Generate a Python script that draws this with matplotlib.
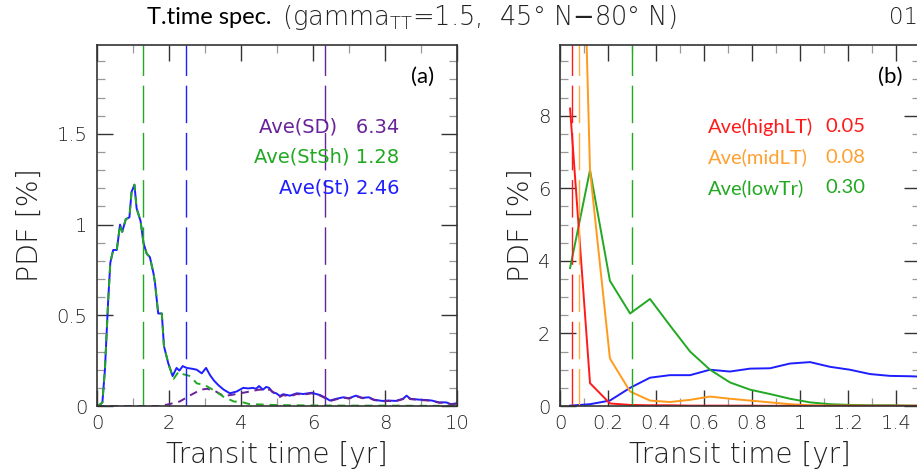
import matplotlib
matplotlib.use('Agg')
import matplotlib.pyplot as plt
from matplotlib.ticker import MultipleLocator

# ---- panel (a): transit time spectra, 0-10 yr ----
t_st = [0.0, 0.1, 0.15, 0.22, 0.31, 0.37, 0.45, 0.55, 0.64, 0.70, 0.80, 0.90, 0.96,
        1.04, 1.10, 1.21, 1.29, 1.38, 1.47, 1.57, 1.61, 1.70, 1.80, 1.86, 1.98, 2.10,
        2.21, 2.29, 2.38, 2.49, 2.65, 2.77, 2.91, 3.03, 3.14, 3.25, 3.37, 3.52, 3.69,
        3.88, 4.06, 4.20, 4.33, 4.42, 4.50, 4.61, 4.70, 4.78, 4.88, 4.98, 5.08, 5.17,
        5.36, 5.55, 5.73, 5.96, 6.20, 6.35, 6.47, 6.65, 6.84, 7.00, 7.19, 7.37, 7.55,
        7.69, 7.92, 8.10, 8.30, 8.50, 8.60, 8.70, 8.95, 9.15, 9.30, 9.50, 9.70, 9.83, 10.0]
v_st = [0.0, 0.01, 0.02, 0.2, 0.58, 0.79, 0.86, 0.86, 1.0, 0.96, 1.03, 1.04, 1.18,
        1.22, 1.09, 1.02, 0.90, 0.84, 0.82, 0.73, 0.68, 0.51, 0.51, 0.33, 0.235, 0.165,
        0.21, 0.195, 0.22, 0.21, 0.205, 0.20, 0.18, 0.21, 0.17, 0.14, 0.115, 0.09, 0.07,
        0.08, 0.10, 0.097, 0.10, 0.095, 0.11, 0.09, 0.105, 0.10, 0.075, 0.07, 0.055, 0.065,
        0.057, 0.07, 0.066, 0.073, 0.06, 0.045, 0.03, 0.04, 0.048, 0.043, 0.057, 0.045, 0.048,
        0.035, 0.028, 0.03, 0.028, 0.04, 0.057, 0.04, 0.035, 0.033, 0.03, 0.02, 0.02, 0.01, 0.015]

t_stsh = [0.0, 0.1, 0.15, 0.22, 0.31, 0.37, 0.45, 0.55, 0.64, 0.70, 0.80, 0.90, 0.96,
          1.04, 1.10, 1.21, 1.29, 1.38, 1.47, 1.57, 1.61, 1.70, 1.80, 1.86, 1.98, 2.10,
          2.13, 2.27, 2.40, 2.59, 2.77, 3.0, 3.3, 3.52, 3.8, 4.05, 4.25, 4.6, 5.0, 5.5,
          6.0, 7.0, 8.0, 9.0, 10.0]
v_stsh = [0.0, 0.01, 0.02, 0.2, 0.58, 0.79, 0.86, 0.86, 1.0, 0.96, 1.03, 1.04, 1.18,
          1.22, 1.09, 1.02, 0.90, 0.84, 0.82, 0.73, 0.68, 0.51, 0.51, 0.33, 0.235, 0.165,
          0.15, 0.19, 0.175, 0.165, 0.125, 0.115, 0.08, 0.05, 0.025, 0.02, 0.01, 0.008, 0.005, 0.004,
          0.003, 0.002, 0.002, 0.001, 0.001]

t_sd = [0.0, 1.0, 1.75, 2.0, 2.3, 2.6, 2.88, 3.06, 3.3, 3.52, 3.7, 3.98, 4.25, 4.5, 4.8,
        5.08, 5.17, 5.36, 5.55, 5.73, 5.96, 6.20, 6.35, 6.47, 6.65, 6.84, 7.00, 7.19, 7.37,
        7.55, 7.69, 7.92, 8.10, 8.30, 8.50, 8.60, 8.70, 8.95, 9.15, 9.30, 9.50, 9.70, 9.83, 10.0]
v_sd = [0.0, 0.0, 0.0, 0.01, 0.025, 0.06, 0.09, 0.095, 0.08, 0.055, 0.06, 0.07, 0.08, 0.09, 0.09,
        0.05, 0.06, 0.053, 0.066, 0.062, 0.07, 0.057, 0.042, 0.027, 0.037, 0.046, 0.041, 0.055, 0.043,
        0.046, 0.033, 0.026, 0.028, 0.026, 0.038, 0.055, 0.038, 0.033, 0.031, 0.028, 0.018, 0.018, 0.009, 0.013]

ave_a = {'SD': 6.34, 'StSh': 1.28, 'St': 2.46}

# ---- panel (b): monthly bins, 0-1.5 yr ----
t_b = [0.042, 0.125, 0.208, 0.292, 0.375, 0.458, 0.542, 0.625, 0.708, 0.792, 0.875,
       0.958, 1.042, 1.125, 1.208, 1.292, 1.375, 1.458, 1.542]
v_high = [8.2, 0.63, 0.07, 0.03, 0.02, 0.02, 0.01, 0.01, 0.01, 0.01, 0.005,
          0.005, 0.005, 0.005, 0.005, 0.005, 0.005, 0.005, 0.005]
v_mid = [27.0, 6.5, 1.31, 0.40, 0.15, 0.11, 0.17, 0.26, 0.20, 0.15, 0.10,
         0.05, 0.02, 0.01, 0.01, 0.005, 0.005, 0.005, 0.005]
v_low = [3.8, 6.5, 3.45, 2.55, 2.95, 2.22, 1.5, 1.0, 0.65, 0.45, 0.33,
         0.2, 0.1, 0.05, 0.03, 0.02, 0.02, 0.01, 0.01]
v_stb = [0.01, 0.05, 0.15, 0.5, 0.78, 0.85, 0.85, 1.0, 0.95, 1.03, 1.04,
         1.17, 1.21, 1.08, 1.0, 0.88, 0.83, 0.82, 0.80]

ave_b = {'highLT': 0.05, 'midLT': 0.08, 'lowTr': 0.30}

xt_a = [0, 2, 4, 6, 8, 10]
yt_a = [0, 0.5, 1, 1.5]
xt_b = [0, 0.2, 0.4, 0.6, 0.8, 1, 1.2, 1.4]
yt_b = [0, 2, 4, 6, 8]

c_blue = '#1e1eff'
c_green = '#22a822'
c_purple = '#68229a'
c_red = '#ff1a1a'
c_orange = '#ff9a1a'

W, H = 917, 475
fig = plt.figure(figsize=(W / 100, H / 100), dpi=100)
ax1 = fig.add_axes([97 / W, 69 / H, 360 / W, 361 / H])
ax2 = fig.add_axes([560 / W, 69 / H, 360 / W, 361 / H])

ncl = dict(family='DejaVu Sans', weight='light', color='#222222')


def style(ax, xt, yt, xminor, yminor):
    ax.set_xticks(xt)
    ax.set_xticklabels(['%g' % v for v in xt], size=14, **ncl)
    ax.set_yticks(yt)
    ax.set_yticklabels(['%g' % v for v in yt], size=14, **ncl)
    ax.xaxis.set_minor_locator(MultipleLocator(xminor))
    ax.yaxis.set_minor_locator(MultipleLocator(yminor))
    ax.tick_params(which='both', direction='in', top=True, right=True)
    ax.tick_params(which='major', length=11.5, width=1.0, color='#333333')
    ax.tick_params(which='minor', length=5.8, width=0.9, color='#999999')
    ax.tick_params(axis='x', pad=6)
    ax.tick_params(axis='y', pad=7)
    for s in ax.spines.values():
        s.set_linewidth(1.2)
        s.set_color('#333333')
    ax.set_xlabel('Transit time [yr]', size=20, va='center', **ncl)
    ax.xaxis.set_label_coords(0.5, -0.136)


# panel (a)
ax1.plot(t_st, v_st, color=c_blue, lw=1.4)
ax1.plot(t_sd, v_sd, color=c_purple, lw=1.4, dashes=(4, 3))
ax1.plot(t_stsh, v_stsh, color=c_green, lw=1.4, dashes=(4, 3))
for key, c in [('StSh', c_green), ('St', c_blue), ('SD', c_purple)]:
    ax1.axvline(ave_a[key], color=c, lw=1.0, dashes=(27, 7))
ax1.set_xlim(0, 10)
ax1.set_ylim(0, 1.99)
style(ax1, xt_a, yt_a, 1, 0.1)
ax1.set_ylabel('PDF [%]', size=20.5, va='center', **ncl)
ax1.yaxis.set_label_coords(-0.186, 0.5)

lines_a = [('Ave(SD)   %.2f' % ave_a['SD'], c_purple),
           ('Ave(StSh) %.2f' % ave_a['StSh'], c_green),
           ('Ave(St) %.2f' % ave_a['St'], c_blue)]
for i, (s, c) in enumerate(lines_a):
    ax1.text(0.839, 0.773 - 0.0845 * i, s, color=c, transform=ax1.transAxes,
             ha='right', va='center', family='DejaVu Sans', size=14)
ax1.text(0.903, 0.911, '(a)', transform=ax1.transAxes, ha='center', va='center',
         family='Lato', size=16)

# panel (b)
ax2.plot(t_b, v_stb, color=c_blue, lw=1.4)
ax2.plot(t_b, v_low, color=c_green, lw=1.4)
ax2.plot(t_b, v_mid, color=c_orange, lw=1.4)
ax2.plot(t_b, v_high, color=c_red, lw=1.4)
ax2.axvline(ave_b['highLT'], color=c_red, lw=1.0, dashes=(27, 7))
ax2.axvline(ave_b['midLT'], color='#ffb040', lw=1.0, dashes=(27, 7))
ax2.axvline(ave_b['lowTr'], color=c_green, lw=1.0, dashes=(27, 7))
ax2.set_xlim(0, 1.5)
ax2.set_ylim(0, 9.95)
style(ax2, xt_b, yt_b, 0.1, 0.5)
ax2.set_ylabel('PDF [%]', size=20.5, va='center', **ncl)
ax2.yaxis.set_label_coords(-0.108, 0.5)

lines_b = [('Ave(highLT)', ave_b['highLT'], c_red),
           ('Ave(midLT)', ave_b['midLT'], '#ffa030'),
           ('Ave(lowTr)', ave_b['lowTr'], c_green)]
for i, (s, v, c) in enumerate(lines_b):
    y = 0.773 - 0.0845 * i
    ax2.text(0.411, y, s, color=c, transform=ax2.transAxes, ha='left', va='center',
             family='Lato', size=14.5)
    ax2.text(0.736, y, '%.2f' % v, color=c, transform=ax2.transAxes, ha='left', va='center',
             family='Lato', size=14.5)
ax2.text(0.917, 0.911, '(b)', transform=ax2.transAxes, ha='center', va='center',
         family='Lato', size=16)

# title
fig.text(147 / W, 1 - 17 / H, 'T.time spec.', ha='left', va='center', family='Lato', size=17)
fig.text(282 / W, 1 - 17 / H, r'(gamma$_{\mathregular{TT}}$=1.5,  45° N$-$80° N)',
         ha='left', va='center', size=18.5, **ncl)
fig.text(889 / W, 1 - 17 / H, '01', ha='left', va='center', size=16.5, **ncl)

fig.savefig('out.png', dpi=100)
